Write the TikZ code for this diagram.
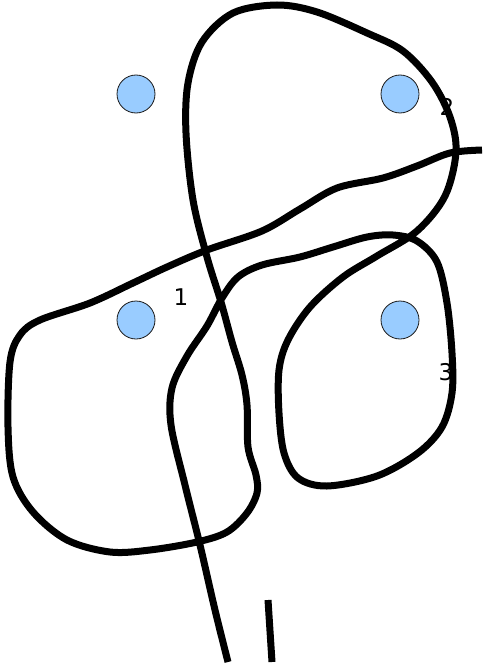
\documentclass[tikz,border=0pt]{standalone}
\usepackage{fontspec}
\setmainfont{DejaVu Sans}
\definecolor{DotBlue}{HTML}{99CCFF}
\definecolor{DotEdge}{HTML}{1A1A1A}

\begin{document}
\begin{tikzpicture}[
    x=1pt, y=-1pt,
    dot/.style={circle, draw=DotEdge, fill=DotBlue, line width=0.8pt,
                minimum size=38pt, inner sep=0pt},
    num/.style={font=\fontsize{23}{23}\selectfont, inner sep=0pt},
    strand/.style={line width=7pt, line join=round, black},
  ]
    \useasboundingbox (0,0) rectangle (482,666);

    % =================== points ===================
    \node[dot] (p0) at (136,94)  {};
    \node[dot] (p2) at (400,94)  {};
    \node[dot] (p1) at (136,320) {};
    \node[dot] (p3) at (400,320) {};

    % labels (lie under the strand)
    \node[num] (n2) at (447,107) {2};
    \node[num] (n1) at (181,297) {1};
    \node[num] (n3) at (446,372) {3};

    % =================== strand ===================
    \draw[strand] plot[smooth, tension=0.55] coordinates {
      (228,662) (215,610) (200,545) (185,485) (171,425) (172,388)
      (187,356) (207,326) (222,298) (238,277) (262,265) (300,257)
      (333,247) (367,237) (393,235) (417,241) (437,262) (447,303)
      (452,353) (452,393) (442,427) (418,453) (377,476) (327,486)
      (298,478) (284,453) (279,413) (279,370) (288,340) (310,307)
      (343,277) (377,256) (417,231) (445,196) (456,152) (450,117)
      (432,82) (403,51) (367,33) (317,12) (277,5) (233,13)
      (202,42) (188,83) (186,133) (193,200) (207,257) (221,302)
      (232,342) (242,375) (247,405) (248,447) (256,475) (257,493)
      (247,513) (227,532) (197,542) (150,550) (110,552) (67,540)
      (33,512) (13,477) (8,427) (10,362) (20,335) (40,320)
      (90,303) (133,283) (167,267) (207,250) (262,231) (300,209)
      (337,188) (383,178) (417,166) (450,153) (482,150)
    };
    \draw[strand] (268,600) -- (272,662);
  \end{tikzpicture}
\end{document}
